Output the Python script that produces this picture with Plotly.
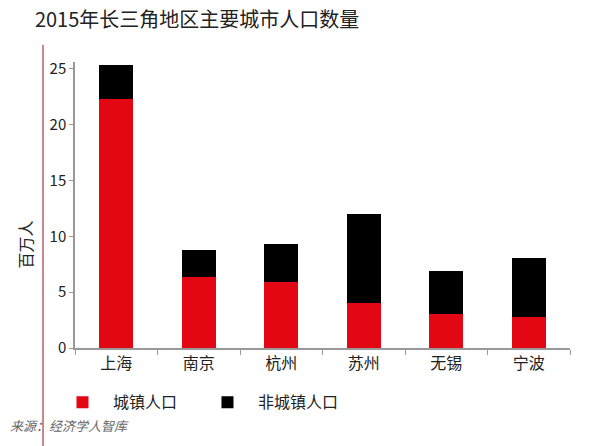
import plotly.graph_objects as go

cities = ['上海', '南京', '杭州', '苏州', '无锡', '宁波']
urban = [22.3, 6.4, 5.9, 4.0, 3.0, 2.8]
rural = [3.0, 2.4, 3.4, 8.0, 3.9, 5.3]
y_ticks = [0, 5, 10, 15, 20, 25]

font = 'Noto Sans CJK SC'

fig = go.Figure()
fig.add_trace(go.Bar(x=cities, y=urban, name='城镇人口',
                     marker=dict(color='#e30613', line=dict(width=0))))
fig.add_trace(go.Bar(x=cities, y=rural, name='非城镇人口',
                     marker=dict(color='#000000', line=dict(width=0))))

fig.update_layout(
    barmode='stack',
    bargap=0.59,
    width=612, height=446,
    margin=dict(l=75, r=42, t=62, b=98),
    paper_bgcolor='white', plot_bgcolor='white',
    font=dict(family=font, color='#222'),
    title=dict(text='2015年长三角地区主要城市人口数量', x=0.057, xanchor='left',
               y=0.97, yanchor='top', font=dict(size=20, color='#222')),
    showlegend=True,
    legend=dict(orientation='h', x=-0.0465, xanchor='left', y=-0.19, yanchor='middle',
                font=dict(size=16), itemwidth=51, entrywidth=79,
                traceorder='normal'),
    xaxis=dict(showline=True, linecolor='#999', linewidth=1.5,
               ticks='outside', tickcolor='#999', ticklen=5,
               tickson='boundaries', tickfont=dict(size=16)),
    yaxis=dict(range=[0, 25.6], tickvals=y_ticks, showline=True, linecolor='#999',
               linewidth=1.5, ticks='outside', tickcolor='#999', ticklen=4,
               showgrid=False, zeroline=False, tickfont=dict(size=15)),
)

# decorative left rule
fig.add_shape(type='line', xref='paper', yref='paper',
              x0=-0.0646, x1=-0.0646, y0=1.06, y1=-0.35,
              line=dict(color='#a01020', width=1))

fig.add_annotation(text='百万人', xref='paper', yref='paper', x=-0.1,
                   xanchor='center', y=0.36, textangle=-90, showarrow=False,
                   font=dict(size=16, color='#222'))
fig.add_annotation(text='<i>来源：经济学人智库</i>', xref='paper', yref='paper',
                   x=-0.135, xanchor='left', y=-0.27, yanchor='middle',
                   showarrow=False, font=dict(size=13, color='#666'))

fig.write_html('out.html', config=dict(displayModeBar=False),
               post_script="document.body.style.margin='0px';")
